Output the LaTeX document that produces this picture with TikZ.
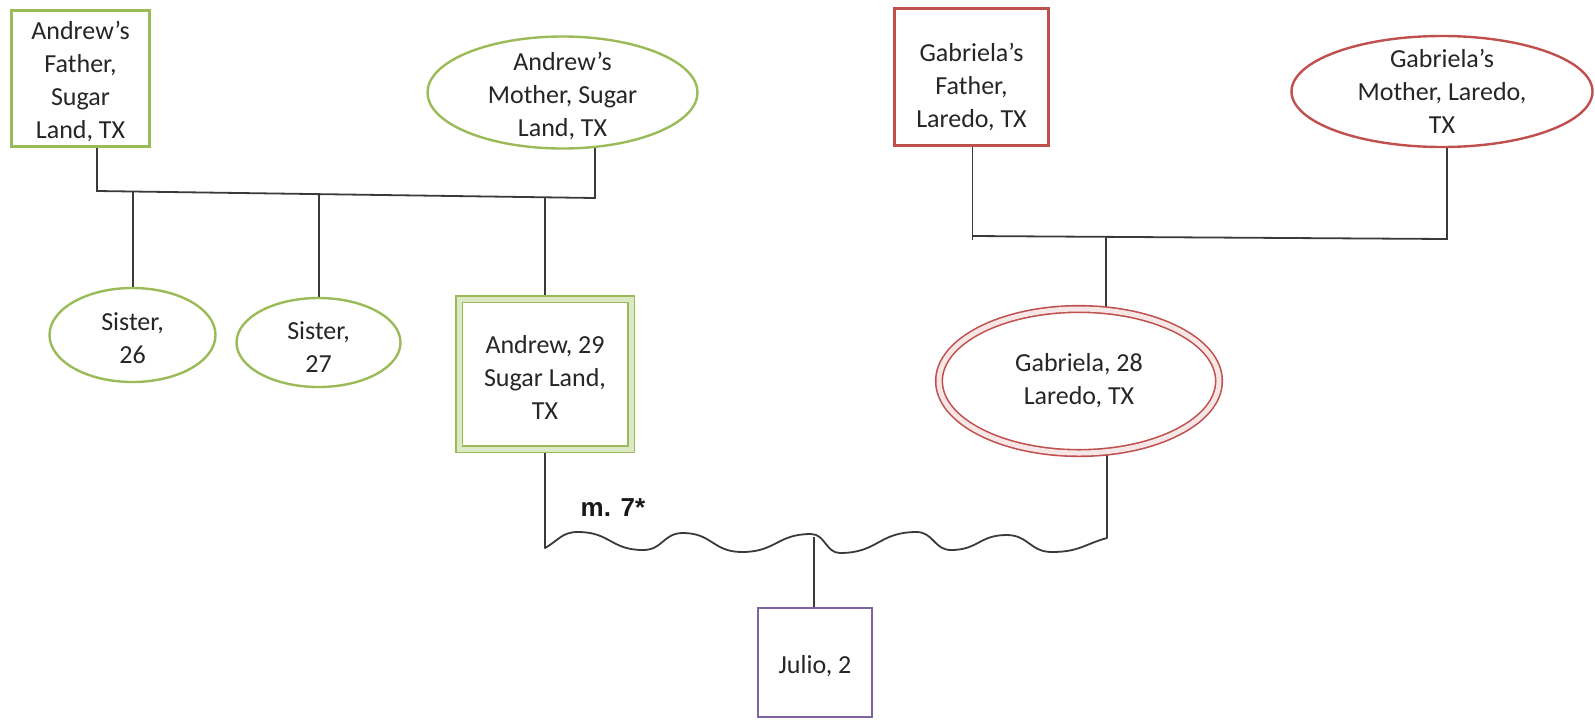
\documentclass[tikz,border=0pt]{standalone}
\usepackage{fontspec}
\setmainfont{Carlito}
\newfontfamily\marrfont{Liberation Sans}
\usetikzlibrary{shapes.geometric,backgrounds}

\definecolor{kin}{HTML}{9BBB59}
\definecolor{kinpale}{HTML}{DDE8C4}
\definecolor{rel}{HTML}{C0504D}
\definecolor{relpale}{HTML}{F7E6E6}
\definecolor{child}{HTML}{8064A2}
\definecolor{linegray}{HTML}{3A3A3A}

\begin{document}
\begin{tikzpicture}[x=0.5pt,y=-0.5pt,
  person/.style={draw=#1, line width=1.2pt, fill=white, inner sep=0pt, outer sep=0pt},
  twin/.style={draw=#1, line width=0.8pt, double=#1pale, double distance=2.5pt,
               fill=white, inner sep=0pt, outer sep=0pt},
  boxed/.style={rectangle, minimum width=#1},
  oval/.style={ellipse, minimum width=#1},
  txt/.style={align=center, font=\fontsize{13}{16.5}\selectfont, text=black!85},
  tie/.style={draw=linegray, line width=0.9pt},
]
\useasboundingbox (0,0) rectangle (1595,719);

% Andrew's side
\node[person=kin, boxed=69pt, minimum height=68pt,
      label={[txt, yshift=-1.5pt]center:{Andrew’s\\Father,\\Sugar\\Land, TX}}]
      (af) at (80.5,78.5) {};
\node[person=kin, oval=135pt, minimum height=56pt,
      label={[txt, yshift=-1.5pt]center:{Andrew’s\\Mother, Sugar\\Land, TX}}]
      (am) at (562.5,92.5) {};
\node[person=kin, oval=83pt, minimum height=47pt,
      label={[txt, yshift=-1.5pt]center:{Sister,\\26}}]
      (s1) at (132.5,335) {};
\node[person=kin, oval=82pt, minimum height=44.5pt,
      label={[txt, yshift=-2.5pt]center:{Sister,\\27}}]
      (s2) at (318.5,342.5) {};
\node[twin=kin, boxed=86pt, minimum height=75pt,
      label={[txt, yshift=-1.5pt]center:{Andrew, 29\\Sugar Land,\\TX}}]
      (a) at (545,374) {};

% Gabriela's side
\node[person=rel, boxed=77pt, minimum height=68.5pt,
      label={[txt, yshift=-5pt]center:{Gabriela’s\\Father,\\Laredo, TX}}]
      (gf) at (971.5,77) {};
\node[person=rel, oval=150.5pt, minimum height=55.5pt,
      label={[txt]center:{Gabriela’s\\Mother, Laredo,\\TX}}]
      (gm) at (1442,91.5) {};
\node[twin=rel, oval=140pt, minimum height=72pt,
      label={[txt]center:{Gabriela, 28\\Laredo, TX}}]
      (g) at (1079,381) {};

% Child
\node[person=child, line width=1pt, boxed=57pt, minimum height=54.5pt,
      label={[txt, yshift=-2pt]center:{Julio, 2}}]
      (j) at (815,662.5) {};

% Marriage note
\node[font=\marrfont\bfseries\fontsize{13}{15}\selectfont, text=black!90]
      (mnote) at (613,508) {m. 7*};

% Junction points of the family lines
\coordinate (af-j) at (97,191);
\coordinate (am-j) at (595,198);
\coordinate (s1-j) at (133,191.5);
\coordinate (s2-j) at (319,194.1);
\coordinate (a-j)  at (545,197.3);

\coordinate (gf-j) at (972.5,236);
\coordinate (gf-t) at (972.5,240);
\coordinate (gm-j) at (1447,239);
\coordinate (g-j)  at (1106,237.5);

\coordinate (a-m) at (545,548);
\coordinate (g-m) at (1107,538);
\coordinate (j-m) at (814,537);

\begin{scope}[on background layer]
  % Andrew's parents and their children
  \draw[tie] (af-j |- af.center) -- (af-j) -- (am-j) -- (am-j |- am.center);
  \draw[tie] (s1-j) -- (s1-j |- s1.center);
  \draw[tie] (s2-j) -- (s2-j |- s2.center);
  \draw[tie] (a-j) -- (a-j |- a.center);

  % Gabriela's parents and their child
  \draw[tie] (gf-j |- gf.center) -- (gf-t);
  \draw[tie] (gf-j) -- (gm-j) -- (gm-j |- gm.center);
  \draw[tie] (g-j) -- (g-j |- g.center);

  % Marriage line (wavy) and their son
  \draw[tie, line join=round] (a-m |- a.center) -- (a-m)
    .. controls +(14,-8) and +(-16,0) .. (578,532)
    .. controls +(32,0) and +(-32,0) .. (643,550)
    .. controls +(20,0) and +(-20,0) .. (683,533)
    .. controls +(29,0) and +(-29,0) .. (742,552)
    .. controls +(34,0) and +(-34,0) .. (811,534)
    .. controls +(14,0) and +(-14,0) .. (840,553)
    .. controls +(38,0) and +(-38,0) .. (916.5,532)
    .. controls +(17,0) and +(-17,0) .. (951,550)
    .. controls +(27,0) and +(-27,0) .. (1006.5,535)
    .. controls +(22,0) and +(-22,0) .. (1052,552)
    .. controls +(27,0) and +(-22,6) .. (g-m)
    -- (g-m |- g.center);
  \draw[tie] (j-m) -- (j-m |- j.center);
\end{scope}
\end{tikzpicture}
\end{document}
